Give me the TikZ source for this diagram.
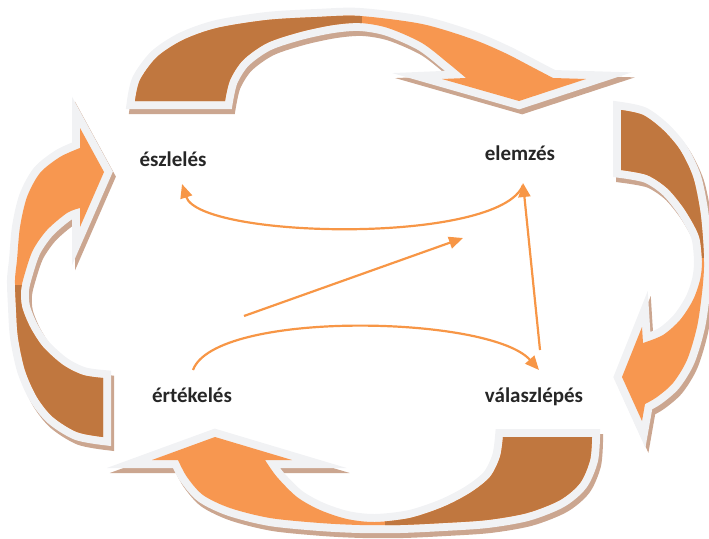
\documentclass[tikz,border=0pt]{standalone}
\usepackage{fontspec}
\setmainfont{Carlito}
\usepackage{tikz}
\usetikzlibrary{arrows.meta,calc}

\definecolor{arrowdk}{HTML}{C0773F}
\definecolor{arrowlt}{HTML}{F79750}
\definecolor{rimgray}{HTML}{F1F2F4}
\definecolor{shadowtan}{HTML}{CBA690}
\definecolor{linkorange}{HTML}{F79646}
\definecolor{labelblack}{HTML}{262626}

\tikzset{
  arrowshadow/.style={draw=shadowtan, fill=shadowtan, line width=16pt, line join=miter, shift={(3,5)}},
  arrowrim/.style={draw=rimgray, fill=rimgray, line width=16pt, line join=miter},
  lbl/.style={font=\fontsize{21}{25}\selectfont\bfseries, text=labelblack, anchor=base, inner sep=0pt},
  link/.style={draw=linkorange, line width=2.2pt, -{Triangle[length=14pt,width=12pt]}}
}

\newcommand{\cyclearrow}[2]{%
  \filldraw[arrowshadow] #1;
  \filldraw[arrowrim] #1;
  \fill[arrowlt] #1;
  \begin{scope}
    \clip #1;
    \fill[arrowdk] #2;
  \end{scope}}

\begin{document}
\begin{tikzpicture}[x=1pt,y=-1pt]
  \useasboundingbox (0,0) rectangle (709,538);
  \cyclearrow{plot[smooth] coordinates {(135,101) (140,80) (157,57) (183,40) (217,28) (267,20) (317,17) (360,16) (422,24) (472,39) (505,53) (532,67) (553,78)}
    -- (586,79) -- (519,101) -- (442,79)
    -- plot[smooth] coordinates {(466,78) (448,63) (422,43) (388,28) (360,23) (333,25) (300,32) (267,43) (243,60) (230,80) (225,101)} -- cycle}
    {(0,0) rectangle (362,140)}
  \cyclearrow{plot[smooth] coordinates {(621,110) (643,115) (663,130) (680,150) (693,177) (700,210) (703,240) (704,267) (702,293) (697,327) (687,360) (673,383) (657,397) (645,404)}
    -- (642,421) -- (622,377) -- (642,327)
    -- plot[smooth] coordinates {(643,343) (663,335) (680,320) (693,300) (700,280) (702,262) (700,240) (695,227) (683,207) (667,188) (647,175) (621,170)} -- cycle}
    {(560,90) rectangle (720,258)}
  \cyclearrow{plot[smooth] coordinates {(592,437) (590,460) (580,483) (560,500) (527,513) (487,520) (443,523) (400,525) (360,525) (320,523) (270,518) (230,508) (203,495) (187,477) (178,460)}
    -- (152,460) -- (215,437) -- (292,460)
    -- plot[smooth] coordinates {(265,460) (277,477) (297,497) (320,510) (347,519) (375,522) (410,518) (443,507) (470,493) (490,477) (500,457) (503,437)} -- cycle}
    {(385,420) rectangle (720,545)}
  \cyclearrow{plot[smooth] coordinates {(103,437) (77,432) (53,417) (37,397) (25,370) (18,337) (16,307) (15,280) (17,260) (20,227) (27,197) (40,173) (60,157) (80,148)}
    -- (80,128) -- (104,172) -- (80,227)
    -- plot[smooth] coordinates {(80,208) (67,213) (47,230) (33,250) (25,273) (21,290) (22,307) (30,327) (43,347) (63,365) (83,375) (103,378)} -- cycle}
    {(-10,285) rectangle (130,460)}
  \node[lbl] (eszleles) at (173,166) {észlelés};
  \node[lbl] (elemzes) at (520,160) {elemzés};
  \node[lbl] (ertekeles) at (192,402) {értékelés};
  \node[lbl] (valasz) at (534,402) {válaszlépés};
  \draw[link] ($(elemzes.base)+(3,25)$) .. controls +(-23,60) and +(18,55) .. ($(eszleles.base)+(9,18)$);
  \draw[link] ($(ertekeles.base)+(52,-86)$) -- ($(elemzes.base)+(-57,78)$);
  \draw[link] ($(valasz.base)+(6,-52)$) -- ($(elemzes.base)+(3,23)$);
  \draw[link] ($(ertekeles.base)+(1,-32)$) .. controls +(22,-60) and +(-49,-55) .. ($(valasz.base)+(5,-32)$);
\end{tikzpicture}
\end{document}
